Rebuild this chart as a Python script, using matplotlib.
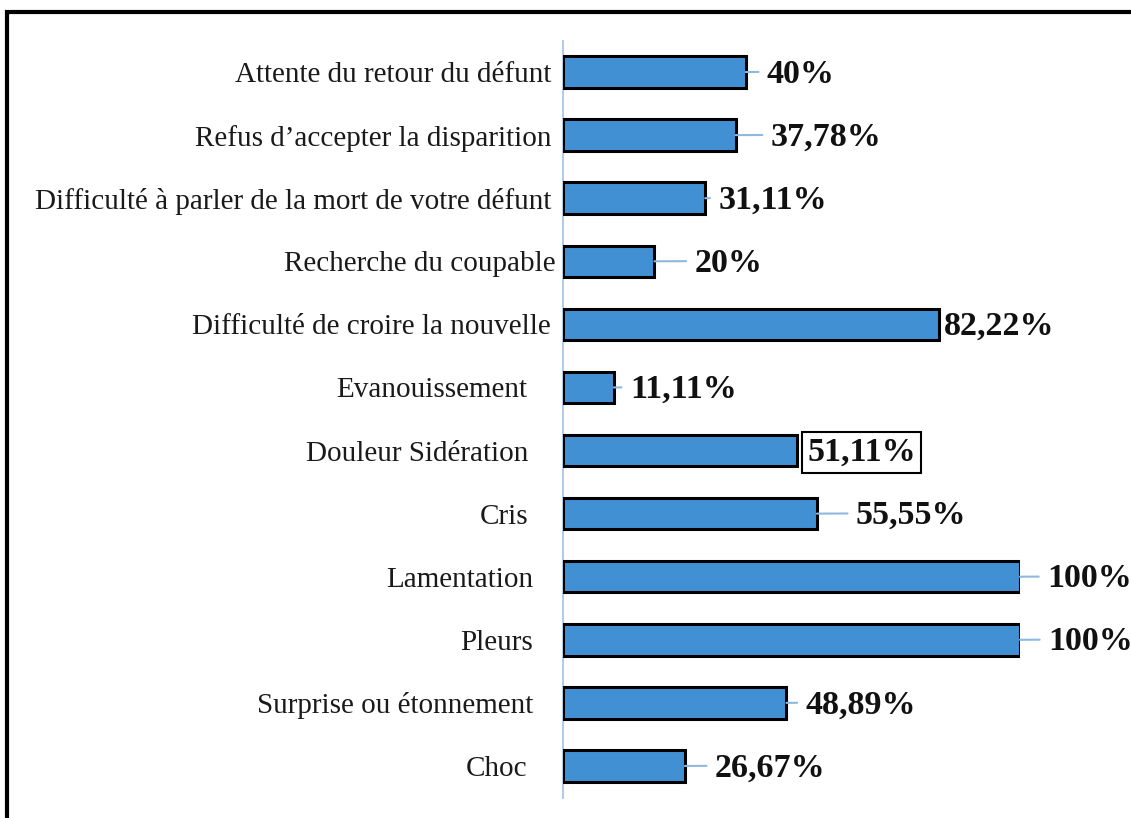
import matplotlib
matplotlib.use("Agg")
import matplotlib.pyplot as plt
from matplotlib.patches import Rectangle

categories = [
    "Attente du retour du défunt",
    "Refus d\u2019accepter la disparition",
    "Difficulté à parler de la mort de votre défunt",
    "Recherche du coupable",
    "Difficulté de croire la nouvelle",
    "Evanouissement",
    "Douleur Sidération",
    "Cris",
    "Lamentation",
    "Pleurs",
    "Surprise ou étonnement",
    "Choc",
]
values = [40, 37.78, 31.11, 20, 82.22, 11.11, 51.11, 55.55, 100, 100, 48.89, 26.67]
value_labels = ["40%", "37,78%", "31,11%", "20%", "82,22%", "11,11%", "51,11%",
                "55,55%", "100%", "100%", "48,89%", "26,67%"]

# styling: label offsets from bar end (pixels), extra tick label padding (pixels)
label_offsets = [21, 35, 13, 40, 5, 16, 11, 39, 27, 28, 19, 30]
tick_pads = [0, 0, 0, -4, 0, 24, 23, 23, 18, 18, 18, 24]
boxed = [False] * 6 + [True] + [False] * 5

W, H = 1131, 818
fig = plt.figure(figsize=(W / 100, H / 100), dpi=100)
ax = fig.add_axes([563 / W, 1 - 797.5 / H, 457 / W, 757 / H])

n = len(categories)
ypos = list(range(n))
ax.barh(ypos, values, height=0.5, color="#4290d4", edgecolor="black", linewidth=2.2, zorder=3)
ax.set_xlim(0, 100)
ax.set_ylim(n - 0.5, -0.5)

for s in ["top", "right", "bottom"]:
    ax.spines[s].set_visible(False)
ax.spines["left"].set_color("#b3cde8")
ax.spines["left"].set_linewidth(1.5)
ax.set_xticks([])
ax.set_yticks(ypos)
ax.set_yticklabels(categories, fontfamily="Liberation Serif", fontsize=21, color="#1a1a1a")
ax.tick_params(axis="y", length=0)
for tick, pad in zip(ax.yaxis.get_major_ticks(), tick_pads):
    tick.set_pad(8.5 + pad * 0.72)

for i, (v, lab, off, bx) in enumerate(zip(values, value_labels, label_offsets, boxed)):
    kw = {}
    if bx:
        kw["bbox"] = dict(boxstyle="square,pad=0.15", fc="white", ec="black", lw=1.5)
    arrow = None
    if off > 10 and not bx:
        arrow = dict(arrowstyle="-", color="#8fb8e0", lw=1.5, shrinkA=4, shrinkB=0,
                     relpos=(0, 0.57))
    ax.annotate(lab, xy=(v, i), xytext=(off, -2), textcoords="offset pixels",
                ha="left", va="center", fontfamily="Liberation Serif",
                fontweight="bold", fontsize=24.5, color="#111111",
                arrowprops=arrow, annotation_clip=False, zorder=4, **kw)

fig.patches.append(Rectangle((7 / W, -0.05), 1.2, (1 - 12 / H) + 0.05,
                             transform=fig.transFigure, fill=False,
                             edgecolor="black", linewidth=3))

fig.savefig("out.png", dpi=100)
